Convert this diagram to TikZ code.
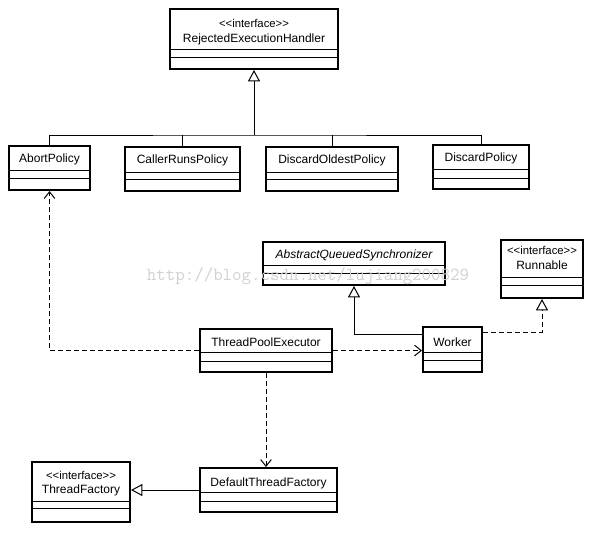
\documentclass[tikz,border=0pt]{standalone}
\usepackage{fontspec}
\setmainfont{Liberation Sans}
\usetikzlibrary{arrows.meta,fit,calc}
\tikzset{
  classbox/.style={draw, line width=1.5pt, inner sep=0pt},
  lbl/.style={font=\fontsize{9pt}{10pt}\selectfont, inner sep=0pt, anchor=center},
  compline/.style={line width=0.75pt},
  conn/.style={line width=0.75pt},
  gen/.style={conn, -{Triangle[open, width=9pt, length=8.5pt]}},
  dep/.style={conn, dash pattern=on 3.75pt off 2.25pt, -{Straight Barb[length=5pt, width=8pt]}},
  real/.style={conn, dash pattern=on 3.75pt off 2.25pt, -{Triangle[open, width=9pt, length=8.5pt]}},
}
\newcommand\uclass[7]{%
  \node[classbox, fit={(#2,#3)(#4,#5)}] (#1) {};
  \draw[compline] (#2,#6) -- (#4,#6) (#2,#7) -- (#4,#7);
}
\begin{document}
\begin{tikzpicture}[x=0.75pt, y=-0.75pt]
\useasboundingbox (0,0) rectangle (606,532);
\fill[white] (0,0) rectangle (606,532);

% classes
\uclass{reh}{170}{9}{338}{69}{49}{57}
\node[lbl] (reh-s) at (254,23) {\fontsize{8.5pt}{9pt}\selectfont <{}<interface>{}>};
\node[lbl] (reh-t) at (254,39) {RejectedExecutionHandler};

\uclass{abort}{9}{146}{90}{190}{170}{178}
\node[lbl] (abort-t) at (49.5,159) {AbortPolicy};

\uclass{caller}{125}{147}{240}{191}{172}{179}
\node[lbl] (caller-t) at (182.5,160) {CallerRunsPolicy};

\uclass{oldest}{266}{147}{398}{191}{172}{179}
\node[lbl] (oldest-t) at (332,160) {DiscardOldestPolicy};

\uclass{discard}{433}{145}{529}{189}{169}{178}
\node[lbl] (discard-t) at (481,158) {DiscardPolicy};

\uclass{aqs}{263}{242}{445}{285}{265}{273}
\node[lbl] (aqs-t) at (354,255) {\itshape AbstractQueuedSynchronizer};

\uclass{run}{501}{240}{583}{298}{277}{285}
\node[lbl] (run-s) at (542,250) {\fontsize{8.5pt}{9pt}\selectfont <{}<interface>{}>};
\node[lbl] (run-t) at (542,265) {Runnable};

\uclass{worker}{423}{327}{482}{372}{352}{360}
\node[lbl] (worker-t) at (452.5,342) {Worker};

\uclass{tpe}{200}{329}{332}{372}{352}{361}
\node[lbl] (tpe-t) at (266,342) {ThreadPoolExecutor};

\uclass{dtf}{200}{468}{337}{512}{492}{501}
\node[lbl] (dtf-t) at (268.5,483) {DefaultThreadFactory};

\uclass{tf}{32}{462}{130}{522}{501}{508}
\node[lbl] (tf-s) at (81,475) {\fontsize{8.5pt}{9pt}\selectfont <{}<interface>{}>};
\node[lbl] (tf-t) at (81,490) {ThreadFactory};

% generalization tree
\coordinate (jn) at (254,135);
\draw[gen] (jn) -- (reh.south);
\draw[conn] (abort.north) |- (jn) -| (discard.north);
\draw[conn] (caller.north) -- (caller.north |- jn);
\draw[conn] (oldest.north) -- (oldest.north |- jn);

% dependencies
\draw[dep] (tpe.west) -| (abort.south);
\draw[dep] (tpe.east) -- (tpe.east -| worker.west);
\draw[dep] (tpe.south) -- (tpe.south |- dtf.north);

% worker
\draw[gen] ([yshift=-6pt]worker.north west) -| (aqs.south);
\draw[real] ([yshift=-4.5pt]worker.north east) -| (run.south);

% thread factory
\draw[gen] (dtf.west) -- (dtf.west -| tf.east);

% watermark
\node[font=\ttfamily\fontsize{13.8pt}{14pt}\selectfont, text=black!18, inner sep=0pt] (wm) at (308,276) {http://blog.csdn.net/lujiang200829};
\end{tikzpicture}
\end{document}
